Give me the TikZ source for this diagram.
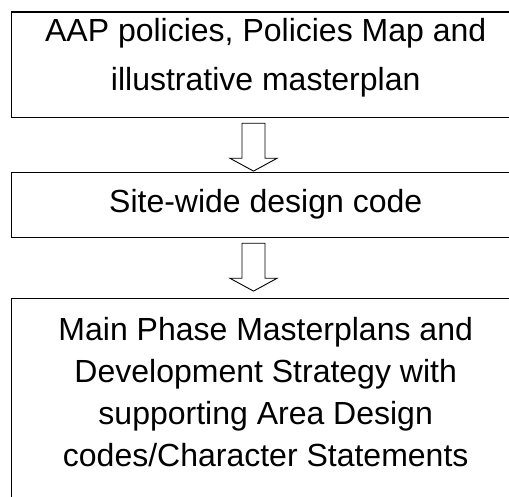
\documentclass[tikz,border=0pt]{standalone}
\usepackage{fontspec}
\setmainfont{Liberation Sans}
\begin{document}
\begin{tikzpicture}[x=1pt,y=-1pt,
  box/.style={draw=black,line width=1.3pt,inner sep=0pt},
  txt/.style={anchor=base,inner sep=0pt,font=\fontsize{32}{38}\selectfont},
  blockarrow/.style={draw=black,line width=0.9pt,fill=white,line join=miter}]
\useasboundingbox (0,0) rectangle (509,497);
\clip (0,0) rectangle (509,497);
% boxes
\node[box,minimum width=511pt,minimum height=105.5pt,anchor=north west] (b1) at (10.5,11.5) {};
\node[box,minimum width=511pt,minimum height=65pt,anchor=north west] (b2) at (10.5,172) {};
\node[box,minimum width=511pt,minimum height=230pt,anchor=north west] (b3) at (10.5,298) {};
% texts
\node[txt] (t1a) at (265.7,41.7) {AAP policies, Policies Map and};
\node[txt] (t1b) at (265.7,90.7) {illustrative masterplan};
\node[txt] (t2) at (265.7,213) {Site-wide design code};
\node[txt] (t3a) at (265.7,340) {Main Phase Masterplans and};
\node[txt] (t3b) at (265.7,382) {Development Strategy with};
\node[txt] (t3c) at (265.7,424) {supporting Area Design};
\node[txt] (t3d) at (265.7,466) {codes/Character Statements};
% block arrows
\coordinate (a1) at (253.5,123.3);
\coordinate (a2) at (253.5,243.3);
\foreach \a in {a1,a2}{
  \draw[blockarrow] (\a) ++(-11.5,0) -- ++(23,0) -- ++(0,35) -- ++(12,0)
    -- ++(-23.5,12.8) -- ++(-23.5,-12.8) -- ++(12,0) -- cycle;
}
\end{tikzpicture}
\end{document}
